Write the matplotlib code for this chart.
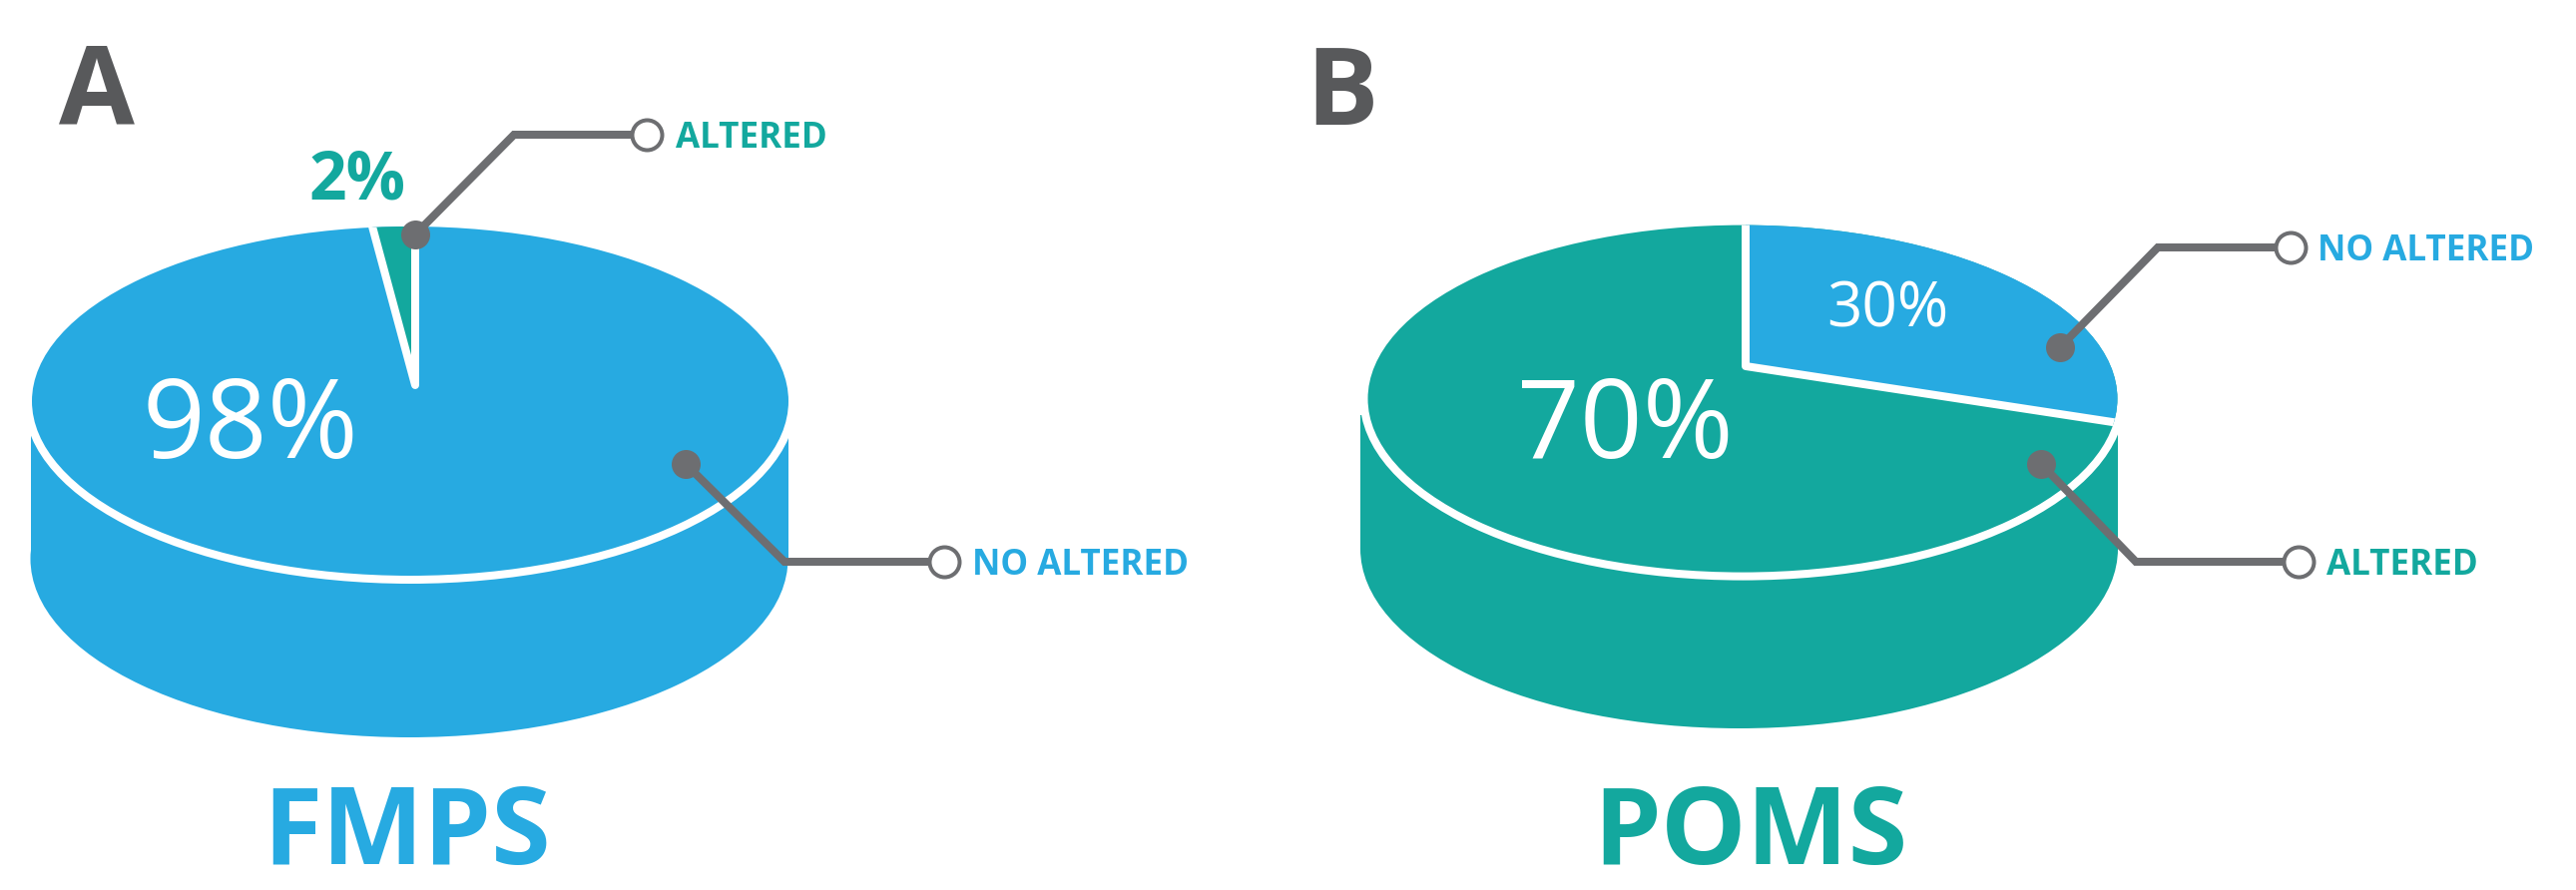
import matplotlib
matplotlib.use("Agg")
import matplotlib.pyplot as plt
from matplotlib.patches import Ellipse, Rectangle, Wedge
from matplotlib.transforms import Affine2D

# values
panel_letters = ["A", "B"]
panel_names = ["FMPS", "POMS"]
altered_share = [2, 30]
no_altered_share = [98, 70]
slice_names = ["ALTERED", "NO ALTERED"]

BLUE = "#27AAE1"
TEAL = "#13A89E"
GREY = "#6D6E71"
DARK = "#58595B"
WHITE = "#FFFFFF"

W, H = 2581, 892
FONT = "Open Sans"
RIM = 8

fig = plt.figure(figsize=(W / 100, H / 100), dpi=100)
ax = fig.add_axes([0, 0, 1, 1])
ax.set_xlim(0, W)
ax.set_ylim(H, 0)
ax.axis("off")


def px(n):
    return n * 72 / fig.dpi


def disc(top, base, apex, share, big_color, small_color, direction, rect_top):
    # side wall and lower rim
    cx, cy, rx, ry = base
    ax.add_patch(Rectangle((cx - rx, rect_top), 2 * rx, cy - rect_top, fc=big_color, ec="none", zorder=1))
    ax.add_patch(Ellipse((cx, cy), 2 * rx, 2 * ry, fc=big_color, ec="none", zorder=1))

    # top face
    cx, cy, rx, ry = top
    ax.add_patch(Ellipse((cx, cy), 2 * rx, 2 * ry, fc=big_color, ec=WHITE, lw=px(RIM), zorder=2))

    # the small slice sweeps from 12 o'clock, squashed to the face and cut inside its rim
    sweep = share * 3.6
    if direction > 0:
        t1, t2 = 90, 90 + sweep
    else:
        t1, t2 = 90 - sweep, 90
    squash = Affine2D().scale(rx, -ry).translate(*apex) + ax.transData
    piece = Wedge((0, 0), 3, t1, t2, fc=small_color, ec=WHITE, lw=px(RIM), joinstyle="round",
                  transform=squash, zorder=3)
    ax.add_patch(piece)
    piece.set_clip_path(Ellipse((cx, cy), 2 * rx - RIM, 2 * ry - RIM, transform=ax.transData))


def connector(dot, elbow, end, label, color, label_x):
    xs = [dot[0], elbow[0], end[0]]
    ys = [dot[1], elbow[1], end[1]]
    ax.plot(xs, ys, color=GREY, lw=px(8), solid_joinstyle="miter", solid_capstyle="butt", zorder=5)
    ax.plot(*dot, "o", ms=px(29), mfc=GREY, mec="none", zorder=6)
    ax.plot(*end, "o", ms=px(30), mfc=WHITE, mec=GREY, mew=px(4), zorder=6)
    ax.text(label_x, end[1] + 13, label, color=color, fontsize=px(35), fontweight="bold",
            family=FONT, ha="left", va="baseline", zorder=6)


def label(x, y, text, color, size, weight="normal", ha="left"):
    ax.text(x, y, text, color=color, fontsize=px(size), fontweight=weight, family=FONT,
            ha=ha, va="baseline", zorder=6)


# panel A
disc((411, 402, 383, 179), (410, 560, 379.5, 179), (416, 386), altered_share[0], BLUE, TEAL, 1, 436)
label(59, 125, panel_letters[0], DARK, 110, "bold")
label(310, 200, f"{altered_share[0]}%", TEAL, 66, "bold")
label(143, 459, f"{no_altered_share[0]}%", WHITE, 110)
label(408, 866, panel_names[0], BLUE, 108, "bold", ha="center")
connector((416, 235), (515, 135), (648, 135), slice_names[0], TEAL, 677)
connector((687, 465), (786, 563), (946, 563), slice_names[1], BLUE, 974)

# panel B
disc((1746, 399.6, 379.5, 178), (1742.5, 550, 379.5, 180), (1749, 367), altered_share[1], TEAL, BLUE, -1, 416)
label(1308, 125, panel_letters[1], DARK, 108, "bold")
label(1830, 328, f"{altered_share[1]}%", WHITE, 62)
label(1520, 459, f"{no_altered_share[1]}%", WHITE, 110)
label(1754, 866, panel_names[1], TEAL, 108, "bold", ha="center")
connector((2064, 348), (2162, 248), (2295, 248), slice_names[1], BLUE, 2322)
connector((2045, 465), (2140, 563), (2303, 563), slice_names[0], TEAL, 2331)

fig.savefig("out.png", dpi=100, facecolor="white")
